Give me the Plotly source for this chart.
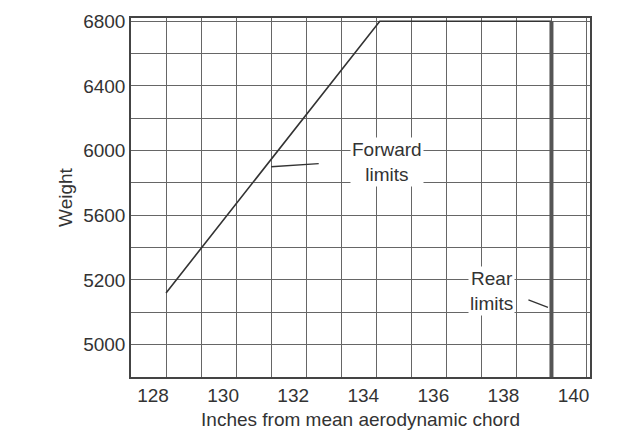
import plotly.graph_objects as go

# Limit envelope (inches from MAC, weight)
env_x = [128, 134.1, 139, 139]
env_w = [5120, 6800, 6800, 4600]
# Axis ticks
x_tick_vals = [128, 130, 132, 134, 136, 138, 140]
y_tick_vals = [4800, 5200, 5600, 6000, 6400, 6800]
y_tick_text = ["5000", "5200", "5600", "6000", "6400", "6800"]

fig = go.Figure()
fig.add_trace(go.Scatter(x=env_x[:3], y=env_w[:3], mode="lines",
                         line=dict(color="#333", width=1.6), showlegend=False))
fig.add_trace(go.Scatter(x=env_x[2:], y=env_w[2:], mode="lines",
                         line=dict(color="#555", width=4), showlegend=False))

fig.add_annotation(x=134.3, y=5930, text="Forward<br>limits", showarrow=False,
                   font=dict(size=19, color="#333"), bgcolor="white")
fig.add_annotation(x=131.0, y=5900, ax=132.4, ay=5920, axref="x", ayref="y",
                   showarrow=True, arrowhead=0, arrowwidth=1.3, arrowcolor="#333", text="")
fig.add_annotation(x=137.3, y=5130, text="Rear<br>limits", showarrow=False,
                   font=dict(size=19, color="#333"), bgcolor="white")
fig.add_annotation(x=138.9, y=5030, ax=138.3, ay=5080, axref="x", ayref="y",
                   showarrow=True, arrowhead=0, arrowwidth=1.3, arrowcolor="#333", text="")

fig.update_layout(
    width=623, height=448, plot_bgcolor="white", paper_bgcolor="white",
    margin=dict(l=123, r=41, t=10, b=79, autoexpand=False),
    font=dict(family="Liberation Sans, Arial", size=19, color="#333"),
    xaxis=dict(range=[127, 140.1], tickvals=x_tick_vals, ticklabelshift=-13,
               automargin=False,
               showgrid=True, gridcolor="#666", gridwidth=1,
               minor=dict(dtick=1, showgrid=True, gridcolor="#666", gridwidth=1),
               zeroline=False, showline=True, linecolor="#444", mirror=True, linewidth=1.5,
               title=dict(text="Inches from mean aerodynamic chord", font=dict(size=19), standoff=8)),
    yaxis=dict(range=[4600, 6820], tickvals=y_tick_vals, ticktext=y_tick_text,
               automargin=False,
               showgrid=True, gridcolor="#666", gridwidth=1,
               minor=dict(dtick=200, tick0=4800, showgrid=True, gridcolor="#666", gridwidth=1),
               zeroline=False, showline=True, linecolor="#444", mirror=True, linewidth=1.5,
               title=dict(text="Weight", font=dict(size=19), standoff=6)),
)
fig.write_html("out.html")
